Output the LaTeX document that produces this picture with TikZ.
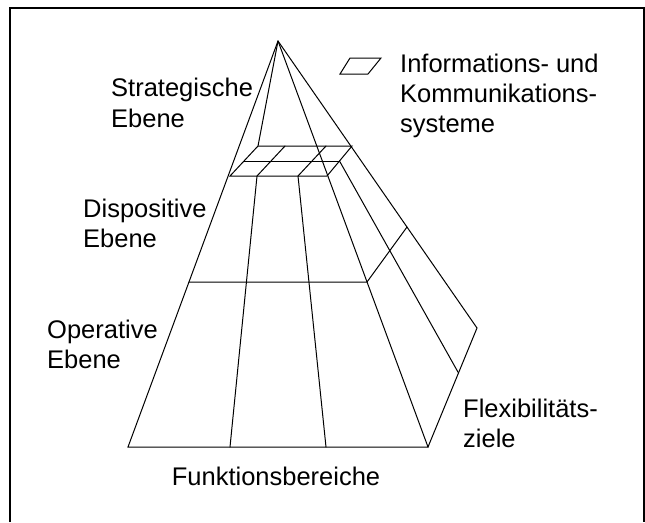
\documentclass[tikz,border=0pt]{standalone}
\usepackage{fontspec}
\setmainfont{Liberation Sans}
\begin{document}
\begin{tikzpicture}[x=1pt,y=-1pt,
  edge/.style={line width=1pt, line join=miter, line cap=round},
  frameline/.style={line width=2pt},
  lbl/.style={anchor=base west, inner sep=0pt, font=\fontsize{25.5}{30}\selectfont},
  lblc/.style={lbl, anchor=base},
]
\useasboundingbox (0,0) rectangle (645,522);
\fill[white] (0,0) rectangle (645,522);

% open frame round the figure
\draw[frameline] (10,522) -- (10,8) -- (644,8) -- (644,522);

% pyramid corners
\coordinate (A)  at (278,41);
\coordinate (BL) at (128,447);
\coordinate (BR) at (428,447);
\coordinate (SR) at (477,328);

% level boundary between operative and dispositive level
\coordinate (HL) at (189,282);
\coordinate (HR) at (367,282);
\coordinate (HS) at (407,227);

% information system slab
\coordinate (K1) at (258,146);
\coordinate (K2) at (285,146);
\coordinate (K3) at (326,146);
\coordinate (K4) at (352,146);
\coordinate (M1) at (244,161);
\coordinate (M2) at (339.5,161);
\coordinate (F1) at (230,176);
\coordinate (F2) at (257,176);
\coordinate (F3) at (298,176);
\coordinate (F4) at (327,176);

% lower ends of the function area lines
\coordinate (V1) at (230,447);
\coordinate (V2) at (326,447);
\coordinate (SM) at (458.5,373);

% outer edges
\draw[edge] (A) -- (BL) -- (BR) -- (A);
\draw[edge] (A) -- (SR) -- (BR);
\draw[edge] (A) -- (K1);

% level boundary
\draw[edge] (HL) -- (HR) -- (HS);

% function areas
\draw[edge] (F2) -- (V1);
\draw[edge] (F3) -- (V2);
\draw[edge] (M2) -- (SM);

% slab
\draw[edge] (K1) -- (K4) -- (F4) -- (F1) -- cycle;
\draw[edge] (M1) -- (M2);
\draw[edge] (K2) -- (F2);
\draw[edge] (K3) -- (F3);

% legend symbol
\coordinate (P1) at (350,58);
\coordinate (P2) at (381,58);
\coordinate (P3) at (368,74);
\coordinate (P4) at (340,74);
\draw[edge] (P1) -- (P2) -- (P3) -- (P4) -- cycle;

% labels
\node[lbl] (strat1) at (111,96) {Strategische};
\node[lbl] (strat2) at (111,127) {Ebene};
\node[lbl] (disp1) at (83,217) {Dispositive};
\node[lbl] (disp2) at (83,247) {Ebene};
\node[lbl] (oper1) at (47,338) {Operative};
\node[lbl] (oper2) at (47,368) {Ebene};
\node[lbl] (info1) at (400,72) {Informations- und};
\node[lbl] (info2) at (400,102) {Kommunikations-};
\node[lbl] (info3) at (400,132) {systeme};
\node[lbl] (flex1) at (463,417) {Flexibilitäts-};
\node[lbl] (flex2) at (463,447) {ziele};
\node[lblc] (funk) at (276,485) {Funktionsbereiche};
\end{tikzpicture}
\end{document}
